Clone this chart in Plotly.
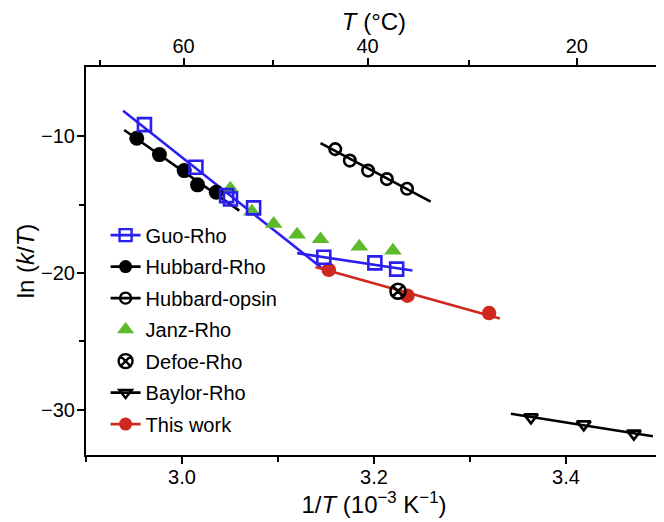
import plotly.graph_objects as go

# ---------------- data ----------------
guo_x = [2.9609, 3.0145, 3.0465, 3.0505, 3.0746, 3.1477, 3.2009, 3.2236]
guo_y = [-9.16, -12.28, -14.35, -14.60, -15.24, -18.85, -19.26, -19.72]
guo_fit1_x = [2.9386, 3.145]
guo_fit1_y = [-8.14, -19.60]
guo_fit2_x = [3.1199, 3.240]
guo_fit2_y = [-18.55, -19.82]

hubR_x = [2.9529, 2.9765, 3.0023, 3.0162, 3.0357]
hubR_y = [-10.16, -11.35, -12.52, -13.56, -14.10]
hubR_fit_x = [2.9397, 3.0597]
hubR_fit_y = [-9.55, -15.44]

hubO_x = [3.1596, 3.1748, 3.1938, 3.2134, 3.2344]
hubO_y = [-10.95, -11.79, -12.52, -13.14, -13.85]
hubO_fit_x = [3.1443, 3.259]
hubO_fit_y = [-10.51, -14.78]

janz_x = [3.0503, 3.0728, 3.0955, 3.1199, 3.1443, 3.1847, 3.2197]
janz_y = [-13.83, -15.51, -16.41, -17.19, -17.53, -18.07, -18.36]

defoe_x = [3.225]
defoe_y = [-21.33]

baylor_x = [3.3635, 3.4185, 3.4707]
baylor_y = [-30.55, -31.06, -31.74]
baylor_fit_x = [3.3426, 3.4905]
baylor_fit_y = [-30.28, -31.93]

this_x = [3.1529, 3.2348, 3.3199]
this_y = [-19.77, -21.66, -22.93]
this_fit_x = [3.139, 3.3311]
this_fit_y = [-19.56, -23.32]

top_major_C = [60, 40, 20]
top_minor_C = [70, 50, 30]

BLUE = "#2a1ff0"
GREEN = "#5fba2b"
RED = "#d0281e"
BLACK = "#000000"

FONT = "Liberation Sans, Arial, Helvetica, sans-serif"

fig = go.Figure()

def fit(x, y, color):
    fig.add_trace(go.Scatter(x=x, y=y, mode="lines", line=dict(color=color, width=2.6),
                             showlegend=False, hoverinfo="skip"))

def pts(x, y, symbol, color, size, lw=2.4, fill=None):
    fig.add_trace(go.Scatter(x=x, y=y, mode="markers", showlegend=False,
                             marker=dict(symbol=symbol, size=size,
                                         color=fill if fill else color,
                                         line=dict(color=color, width=lw))))

# fit lines
fit(guo_fit1_x, guo_fit1_y, BLUE)
fit(guo_fit2_x, guo_fit2_y, BLUE)
fit(hubR_fit_x, hubR_fit_y, BLACK)
fit(hubO_fit_x, hubO_fit_y, BLACK)
fit(baylor_fit_x, baylor_fit_y, BLACK)
fit(this_fit_x, this_fit_y, RED)

# markers
pts(janz_x, janz_y, "triangle-up", GREEN, 15.5, lw=0, fill=GREEN)
pts(hubR_x, hubR_y, "circle", BLACK, 15, lw=0, fill=BLACK)
pts(hubO_x, hubO_y, "circle-open", BLACK, 11.5, lw=2.6)
pts(this_x, this_y, "circle", RED, 14.5, lw=0, fill=RED)
pts(defoe_x, defoe_y, "circle-x-open", BLACK, 15, lw=2.6)
pts(baylor_x, baylor_y, "triangle-down-open", BLACK, 12, lw=2.6)
pts(guo_x, guo_y, "square-open", BLUE, 13, lw=2.6)

# legend entries
legend_items = [
    ("Guo-Rho", "lines+markers", "square-open", BLUE, 12, BLUE),
    ("Hubbard-Rho", "lines+markers", "circle", BLACK, 13, BLACK),
    ("Hubbard-opsin", "lines+markers", "circle-open", BLACK, 11, BLACK),
    ("Janz-Rho", "markers", "triangle-up", GREEN, 15, GREEN),
    ("Defoe-Rho", "markers", "circle-x-open", BLACK, 14, BLACK),
    ("Baylor-Rho", "lines+markers", "triangle-down-open", BLACK, 11, BLACK),
    ("This work", "lines+markers", "circle", RED, 13, RED),
]
for i, (name, mode, sym, col, sz, lc) in enumerate(legend_items):
    filled = sym in ("circle", "triangle-up")
    fig.add_trace(go.Scatter(
        x=[None], y=[None], name=name, mode=mode, legendgroup=str(i),
        line=dict(color=lc, width=2.6),
        marker=dict(symbol=sym, size=sz, color=col,
                    line=dict(color=col, width=0 if filled else 2.4))))

# dummy trace for top axis
fig.add_trace(go.Scatter(x=[None], y=[None], xaxis="x2", showlegend=False))

XR = [2.9, 3.5]
TICKF = dict(size=20, family=FONT, color="black")
TITLEF = dict(size=24, family=FONT, color="black")
fig.update_layout(
    width=656, height=514,
    margin=dict(l=78, r=2, t=59, b=67, autoexpand=False),
    paper_bgcolor="white", plot_bgcolor="white",
    font=dict(family=FONT, size=20, color="black"),
    showlegend=True,
    legend=dict(x=0.034, y=0.617, xanchor="left", yanchor="top",
                bgcolor="rgba(0,0,0,0)", font=dict(size=20),
                tracegroupgap=2.5, itemwidth=30),
    xaxis=dict(range=XR, showline=True, linecolor="black", linewidth=2,
               mirror=True, ticks="outside", ticklen=7, tickwidth=2,
               tickcolor="black", tickvals=[3.0, 3.2, 3.4],
               ticktext=["3.0", "3.2", "3.4"], automargin=False,
               ticklabelstandoff=-4,
               minor=dict(tickvals=[2.9, 3.1, 3.3], ticks="outside", ticklen=5,
                          tickwidth=2, tickcolor="black"),
               showgrid=False, zeroline=False,
               tickfont=TICKF,
               title=dict(text="1/<i>T</i> (10<sup>\u22123</sup> K<sup>\u22121</sup>)",
                          font=TITLEF, standoff=0)),
    xaxis2=dict(range=XR, overlaying="x", side="top", anchor="y",
                showline=True, linecolor="black", linewidth=2, automargin=False,
                ticks="outside", ticklen=7, tickwidth=2, tickcolor="black",
                ticklabelstandoff=-3,
                tickvals=[1000.0 / (c + 273.15) for c in top_major_C],
                ticktext=[str(c) for c in top_major_C],
                minor=dict(tickvals=[1000.0 / (c + 273.15) for c in top_minor_C],
                           ticks="outside", ticklen=5, tickwidth=2, tickcolor="black"),
                showgrid=False, zeroline=False,
                tickfont=TICKF,
                title=dict(text="<i>T</i> (°C)", font=TITLEF, standoff=1)),
    yaxis=dict(range=[-33.3, -4.95], showline=True, linecolor="black", linewidth=2,
               mirror=True, ticks="outside", ticklen=7, tickwidth=2, tickcolor="black",
               tickvals=[-10, -20, -30], ticktext=["\u221210", "\u221220", "\u221230"],
               ticklabelstandoff=-2,
               minor=dict(tickvals=[-15, -25], ticks="outside", ticklen=5,
                          tickwidth=2, tickcolor="black"),
               showgrid=False, zeroline=False, automargin=False,
               tickfont=TICKF,
               title=dict(text="ln (<i>k</i>/<i>T</i>)", font=TITLEF, standoff=0)),
)

fig.write_html("out.html")
